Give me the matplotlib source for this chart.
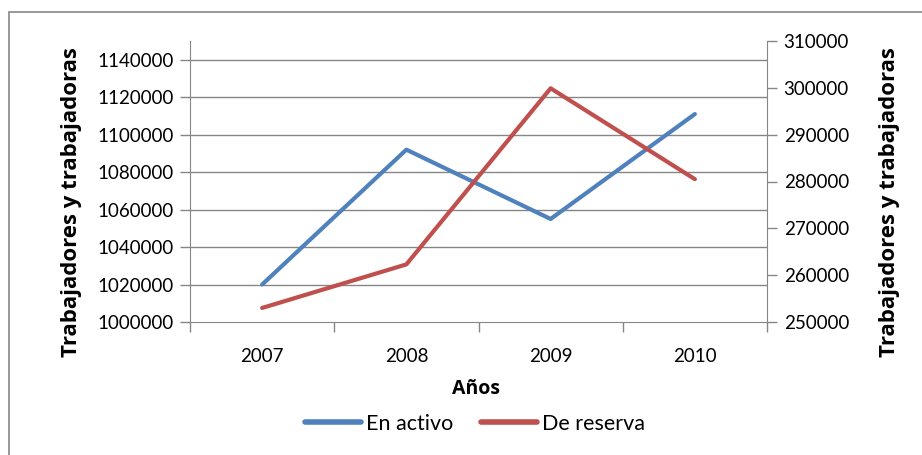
import matplotlib
matplotlib.use("Agg")
import matplotlib.pyplot as plt
from matplotlib.patches import Rectangle
from matplotlib.lines import Line2D

years = ["2007", "2008", "2009", "2010"]
en_activo = [1020000, 1092000, 1055000, 1111000]
de_reserva = [253000, 262300, 299900, 280500]
left_ticks = list(range(1000000, 1140001, 20000))
right_ticks = list(range(250000, 310001, 10000))

plt.rcParams['font.family'] = ['Lato', 'DejaVu Sans']

W, H = 922, 455
fig = plt.figure(figsize=(W / 100, H / 100), dpi=100)
fig.patch.set_facecolor('white')

# outer chart border
fig.add_artist(Rectangle((8.5 / W, -0.1), 1.2, (H - 12) / H + 0.1, transform=fig.transFigure,
                         fill=False, edgecolor='#868686', linewidth=1.2))

x0, x1, y0, y1 = 190, 767, 41, 322
ax = fig.add_axes([x0 / W, 1 - y1 / H, (x1 - x0) / W, (y1 - y0) / H])
ax2 = ax.twinx()

grid_c = '#868686'
xs = [0.5, 1.5, 2.5, 3.5]
ax.plot(xs, en_activo, color='#4F81BD', linewidth=3, solid_capstyle='round', zorder=3)
ax2.plot(xs, de_reserva, color='#C0504D', linewidth=3, solid_capstyle='round', zorder=3)

ax.set_xlim(0, 4)
ax.set_ylim(1000000, 1150000)
ax.set_yticks(left_ticks)
ax.set_yticklabels([str(v) for v in left_ticks])
ax2.set_ylim(250000, 310000)
ax2.set_yticks(right_ticks)
ax2.set_yticklabels([str(v) for v in right_ticks])

ax.set_xticks([0, 1, 2, 3, 4])
ax.set_xticklabels([])
ax.set_xticks(xs, minor=True)
ax.set_xticklabels(years, minor=True)
ax.tick_params(axis='x', which='minor', length=0, pad=19, labelsize=13.5)
ax.tick_params(axis='x', which='major', length=7, color=grid_c, width=1)

for y in left_ticks[1:]:
    ax.axhline(y, color=grid_c, linewidth=1, zorder=1)

ax.tick_params(axis='y', length=7, color=grid_c, width=1, labelsize=13.5, pad=5)
ax2.tick_params(axis='y', length=7, color=grid_c, width=1, labelsize=13.5, pad=5)

for a in (ax, ax2):
    for s in a.spines.values():
        s.set_visible(False)
ax.spines['left'].set_visible(True)
ax.spines['left'].set_color(grid_c)
ax.spines['bottom'].set_visible(True)
ax.spines['bottom'].set_color(grid_c)
ax2.spines['right'].set_visible(True)
ax2.spines['right'].set_color(grid_c)

lab_font = dict(fontsize=16, fontweight='bold', family=['Open Sans', 'DejaVu Sans'])
fig.text(72 / W, 1 - 202 / H, 'Trabajadores y trabajadoras', rotation=90, ha='center', va='center', **lab_font)
fig.text(889 / W, 1 - 202 / H, 'Trabajadores y trabajadoras', rotation=90, ha='center', va='center', **lab_font)
fig.text(476 / W, 1 - 389 / H, 'Años', ha='center', va='center', fontsize=14, fontweight='bold',
         family=['Open Sans', 'DejaVu Sans'])

handles = [Line2D([], [], color='#4F81BD', linewidth=4, solid_capstyle='round'),
           Line2D([], [], color='#C0504D', linewidth=4, solid_capstyle='round')]
fig.legend(handles, ['En activo', 'De reserva'], loc='center', bbox_to_anchor=(475 / W, 1 - 424 / H),
           ncol=2, frameon=False, fontsize=15.5, handlelength=2.6, handletextpad=0.25, columnspacing=1.25)

fig.savefig('out.png', dpi=100)
